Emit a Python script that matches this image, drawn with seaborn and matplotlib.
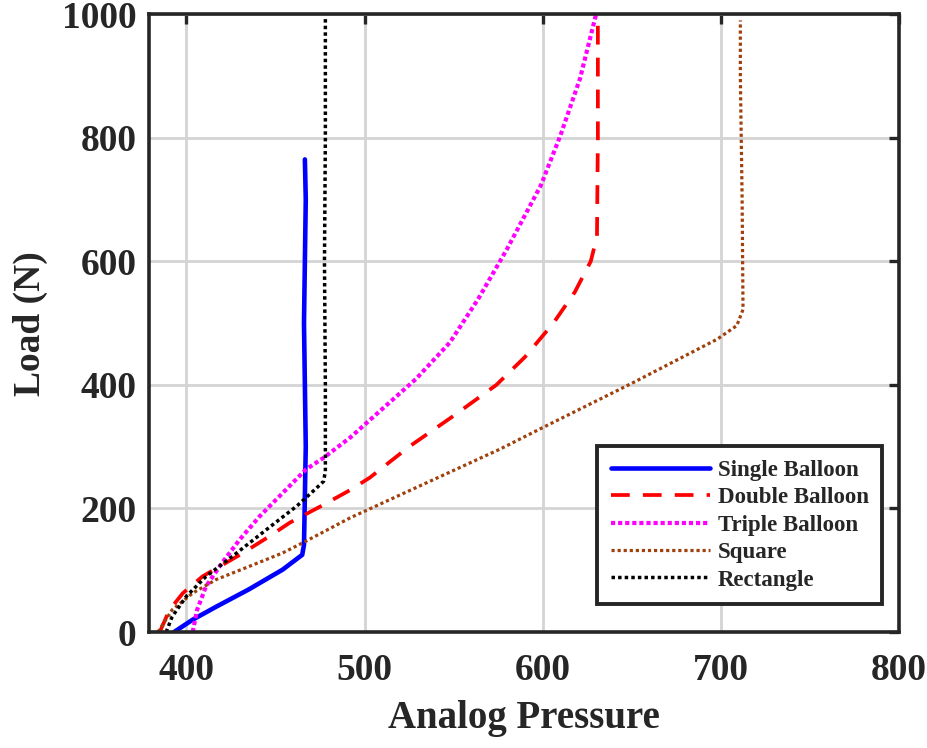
import matplotlib
matplotlib.use("Agg")
import matplotlib.pyplot as plt
import seaborn as sns
import pandas as pd

# ---- data ----
single_x = [393, 403.5, 416.7, 435, 454, 465, 466, 467, 466, 467, 466.5]
single_y = [0, 20, 41, 69, 101, 125, 141, 300, 500, 700, 765]

double_x = [385, 390.5, 398, 409, 430, 446.6, 458, 477, 492, 503, 525, 550, 574, 590, 606, 618, 627, 630.5, 631, 631]
double_y = [0, 36, 63, 90, 125, 155, 177, 206, 230, 250, 300, 350, 400, 445, 500, 550, 600, 640, 800, 1000]

triple_x = [403.5, 406, 411, 420, 430, 441, 454, 467, 477, 492, 529, 548, 564, 580, 599, 610, 621, 630]
triple_y = [0, 36, 74, 112, 150, 187, 225, 263, 282, 315, 410, 469, 540, 620, 723, 804, 896, 1000]

square_x = [384, 392, 403.5, 416.7, 435, 454, 467, 492, 520, 576, 598, 651, 698, 709, 712.5, 712, 711, 711]
square_y = [0, 36, 63, 85, 106, 128, 147, 185, 222, 296, 328, 404, 474, 496, 522, 700, 900, 990]

rect_x = [388.6, 392, 400, 411, 426, 445, 462, 473, 477, 478, 478, 477.5, 478, 478]
rect_y = [0, 25, 58, 90, 123, 166, 204, 233, 244, 260, 400, 600, 800, 993]

labels = ["Single Balloon", "Double Balloon", "Triple Balloon", "Square", "Rectangle"]
x_ticks = [400, 500, 600, 700, 800]
y_ticks = [0, 200, 400, 600, 800, 1000]

series = [
    (labels[0], single_x, single_y, "#0000ff", "-", 3.3),
    (labels[1], double_x, double_y, "#ff0000", (0, (5, 3.5)), 2.7),
    (labels[2], triple_x, triple_y, "#ff00ff", (0, (1, 0.7)), 3.0),
    (labels[3], square_x, square_y, "#a0410d", (0, (1, 0.9)), 2.3),
    (labels[4], rect_x, rect_y, "#000000", (0, (1, 0.9)), 2.5),
]

sns.set_style("white")
plt.rcParams["font.family"] = ["Liberation Serif", "DejaVu Serif"]
plt.rcParams["font.weight"] = "bold"

fig = plt.figure(figsize=(9.28, 7.48), dpi=100)
ax = fig.add_axes([0.1606, 0.155, 0.808, 0.826])

for name, xs, ys, col, ls, lw in series:
    df = pd.DataFrame({"x": xs, "y": ys})
    sns.lineplot(data=df, x="x", y="y", sort=False, estimator=None, ax=ax,
                 color=col, linestyle=ls, linewidth=lw, label=name)

ax.set_xlim(379, 800)
ax.set_ylim(0, 1000)
ax.set_xticks(x_ticks)
ax.set_yticks(y_ticks)
ax.grid(True, color="#d4d4d4", linewidth=2)
ax.set_axisbelow(True)
for s in ax.spines.values():
    s.set_visible(True)
    s.set_color("#262626")
    s.set_linewidth(2.6)
ax.tick_params(axis="both", direction="in", length=7, width=2.4, color="#262626",
               top=True, right=True, labelsize=27)
ax.tick_params(axis="x", pad=15)
ax.tick_params(axis="y", pad=9)
for lab in ax.get_xticklabels() + ax.get_yticklabels():
    lab.set_fontweight("bold")
ax.set_xlabel("Analog Pressure", fontsize=28, fontweight="bold", labelpad=9)
ax.set_ylabel("Load (N)", fontsize=27, fontweight="bold", labelpad=10)

leg = ax.legend(loc="lower right", bbox_to_anchor=(0.978, 0.045),
                prop={"weight": "bold", "size": 16.5}, handlelength=4.3,
                labelspacing=0.28, borderpad=0.6, handletextpad=0.35,
                borderaxespad=0.0,
                fancybox=False, framealpha=1, edgecolor="#262626")
leg.get_frame().set_linewidth(2.8)

fig.savefig("out.png", dpi=100)
